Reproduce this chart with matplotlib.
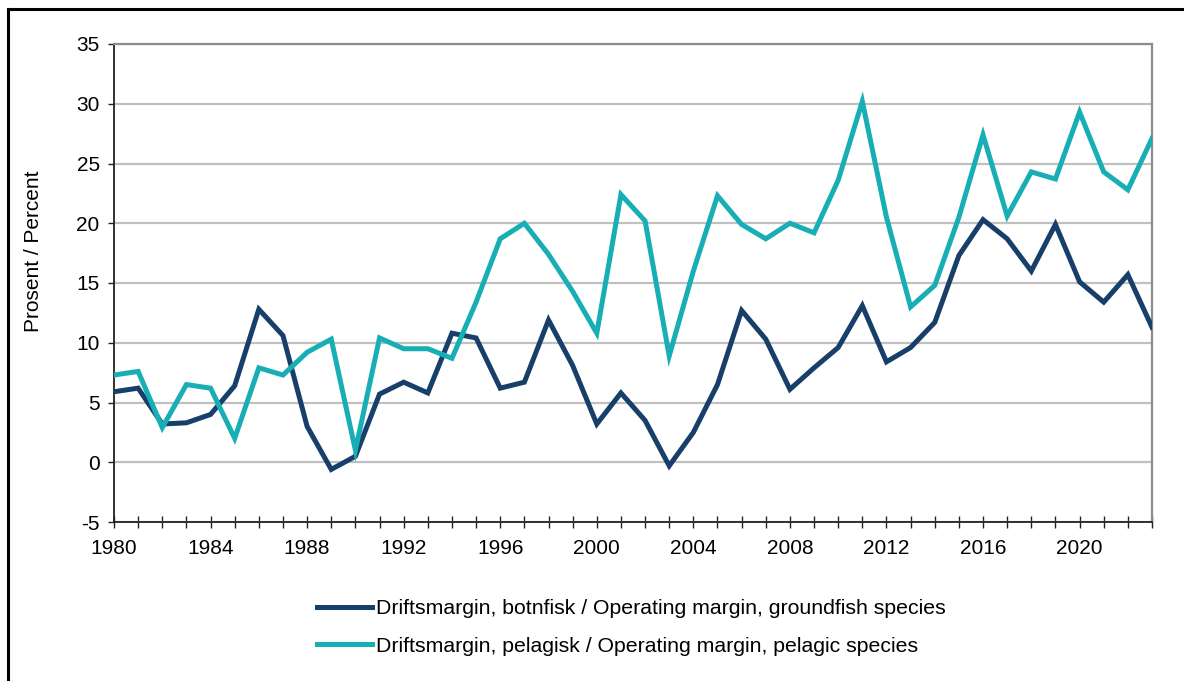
import matplotlib
matplotlib.use("Agg")
import matplotlib.pyplot as plt
from matplotlib.ticker import MultipleLocator
from matplotlib.lines import Line2D

years = list(range(1980, 2024))
groundfish = [5.9, 6.2, 3.2, 3.3, 4.0, 6.4, 12.8, 10.6, 3.0, -0.6,
              0.5, 5.7, 6.7, 5.8, 10.8, 10.4, 6.2, 6.7, 11.9, 8.1,
              3.2, 5.8, 3.5, -0.3, 2.5, 6.5, 12.7, 10.3, 6.1, 7.9,
              9.6, 13.1, 8.4, 9.6, 11.7, 17.3, 20.3, 18.7, 16.0, 19.9,
              15.1, 13.4, 15.7, 11.3]
pelagic = [7.3, 7.6, 2.9, 6.5, 6.2, 2.0, 7.9, 7.3, 9.2, 10.3,
           1.0, 10.4, 9.5, 9.5, 8.7, 13.4, 18.7, 20.0, 17.4, 14.3,
           10.8, 22.4, 20.2, 8.9, 16.0, 22.3, 19.9, 18.7, 20.0, 19.2,
           23.6, 30.2, 20.5, 13.0, 14.8, 20.5, 27.4, 20.6, 24.3, 23.7,
           29.3, 24.3, 22.8, 27.1]
labels = ["Driftsmargin, botnfisk / Operating margin, groundfish species",
          "Driftsmargin, pelagisk / Operating margin, pelagic species"]
ylabel = "Prosent / Percent"

plt.rcParams['font.family'] = ['Liberation Sans', 'DejaVu Sans']
plt.rcParams['axes.unicode_minus'] = False
W, H = 1184, 681
fig = plt.figure(figsize=(W / 100, H / 100), dpi=100)
ax = fig.add_axes([114 / W, 1 - 522 / H, (1152 - 114) / W, (522 - 44) / H])

c_dark = "#173f6a"
c_teal = "#17aeb5"
ax.plot(years, groundfish, color=c_dark, lw=3.6, solid_joinstyle='miter', label=labels[0], zorder=3)
ax.plot(years, pelagic, color=c_teal, lw=3.6, solid_joinstyle='miter', label=labels[1], zorder=3)

ax.set_xlim(1980, 2023)
ax.set_ylim(-5, 35)
ax.yaxis.set_major_locator(MultipleLocator(5))
ax.xaxis.set_major_locator(MultipleLocator(4))
ax.xaxis.set_minor_locator(MultipleLocator(1))
ax.grid(axis='y', color='#c0c0c0', lw=1.6, zorder=0)
ax.set_axisbelow(True)

for s in ['left', 'bottom']:
    ax.spines[s].set_color('#222222')
    ax.spines[s].set_linewidth(1.3)
for s in ['top', 'right']:
    ax.spines[s].set_color('#8c8c8c')
    ax.spines[s].set_linewidth(1.6)

ax.tick_params(axis='y', direction='out', length=4.3, width=1, labelsize=15, pad=6, colors='#222222', labelcolor='black')
ax.tick_params(axis='x', which='both', direction='inout', length=8.6, width=1, labelsize=15, pad=8, colors='#222222', labelcolor='black')
ax.set_ylabel(ylabel, fontsize=15)
ax.yaxis.set_label_coords(-0.068, 0.567)

fig.legend(loc='center left', bbox_to_anchor=(317 / W, 1 - 627.5 / H), frameon=False,
           fontsize=15.3, handlelength=2.6, handletextpad=0.19, labelspacing=0.85,
           borderaxespad=0, borderpad=0)

# figure border (left and top visible)
fig.add_artist(Line2D([8 / W, 8 / W], [0, 1 - 9 / H], color='black', lw=2.2, transform=fig.transFigure))
fig.add_artist(Line2D([8 / W, 1], [1 - 9 / H, 1 - 9 / H], color='black', lw=2.2, transform=fig.transFigure))

fig.savefig("out.png", dpi=100)
